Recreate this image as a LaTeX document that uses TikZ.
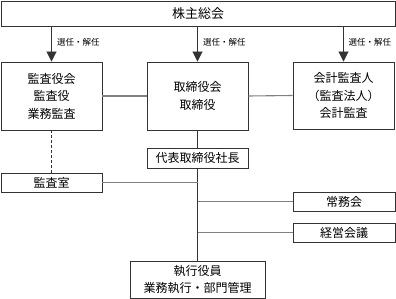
\documentclass[tikz,border=0pt]{standalone}
\usepackage{fontspec}
\setmainfont{Noto Sans CJK JP}
\usetikzlibrary{arrows.meta}
\begin{document}
\begin{tikzpicture}[x=1pt,y=-1pt,
  box/.style={draw=black!80,line width=0.9pt,inner sep=0pt},
  conn/.style={draw=black!50,line width=1.1pt},
  vconn/.style={draw=black!80,line width=0.9pt},
  arr/.style={draw=black!80,line width=0.9pt,-{Triangle[length=10pt,width=10pt]}},
  lbl/.style={font=\fontsize{8.5}{9}\selectfont,anchor=west,inner sep=0pt},
  txt/.style={font=\fontsize{12}{17.5}\selectfont,align=center}]
\useasboundingbox (0,0) rectangle (396,299);
\node[box,minimum width=394pt,minimum height=25pt,font=\fontsize{13}{15}\selectfont] (gm) at (198,13.5) {株主総会};
\node[box,minimum width=101pt,minimum height=68pt,txt] (kansa) at (51.5,96) {監査役会\\監査役\\業務監査};
\node[box,minimum width=101pt,minimum height=68pt,txt] (tori) at (197.5,96) {取締役会\\取締役};
\node[box,minimum width=101pt,minimum height=67pt,txt] (kaikei) at (343.5,95.5) {会計監査人\\（監査法人）\\会計監査};
\node[box,minimum width=101pt,minimum height=20pt,font=\fontsize{12}{14}\selectfont] (pres) at (197.5,158) {代表取締役社長};
\node[box,minimum width=101pt,minimum height=19pt,font=\fontsize{12}{14}\selectfont] (shitsu) at (51.5,182.5) {監査室};
\node[box,minimum width=102pt,minimum height=19pt,font=\fontsize{12}{14}\selectfont] (jomu) at (344,201.5) {常務会};
\node[box,minimum width=102pt,minimum height=19pt,font=\fontsize{12}{14}\selectfont] (keiei) at (344,232.5) {経営会議};
\node[box,minimum width=135pt,minimum height=37pt,txt] (shikko) at (197.5,279.5) {執行役員\\業務執行・部門管理};
% arrows
\draw[arr] (gm.south -| kansa) -- (kansa.north);
\draw[arr] (gm.south -| tori) -- (tori.north);
\draw[arr] (gm.south -| kaikei) -- (kaikei.north);
\node[lbl] (l1) at (57,42) {選任・解任};
\node[lbl] (l2) at (203,42) {選任・解任};
\node[lbl] (l3) at (348.5,42) {選任・解任};
% horizontal connectors
\draw[conn] (kansa.east) -- (tori.west);
\draw[conn] (tori.east) -- (kaikei.west);
% vertical
\draw[vconn] (tori.south) -- (pres.north);
\draw[vconn] (pres.south) -- (shikko.north);
\draw[vconn,densely dashed,line width=0.7pt] (kansa.south) -- (shitsu.north);
\coordinate (j1) at (pres.south |- shitsu.east);
\coordinate (j2) at (pres.south |- jomu.west);
\coordinate (j3) at (pres.south |- keiei.west);
\draw[conn] (shitsu.east) -- (j1);
\draw[conn] (j2) -- (jomu.west);
\draw[conn] (j3) -- (keiei.west);
\end{tikzpicture}
\end{document}
